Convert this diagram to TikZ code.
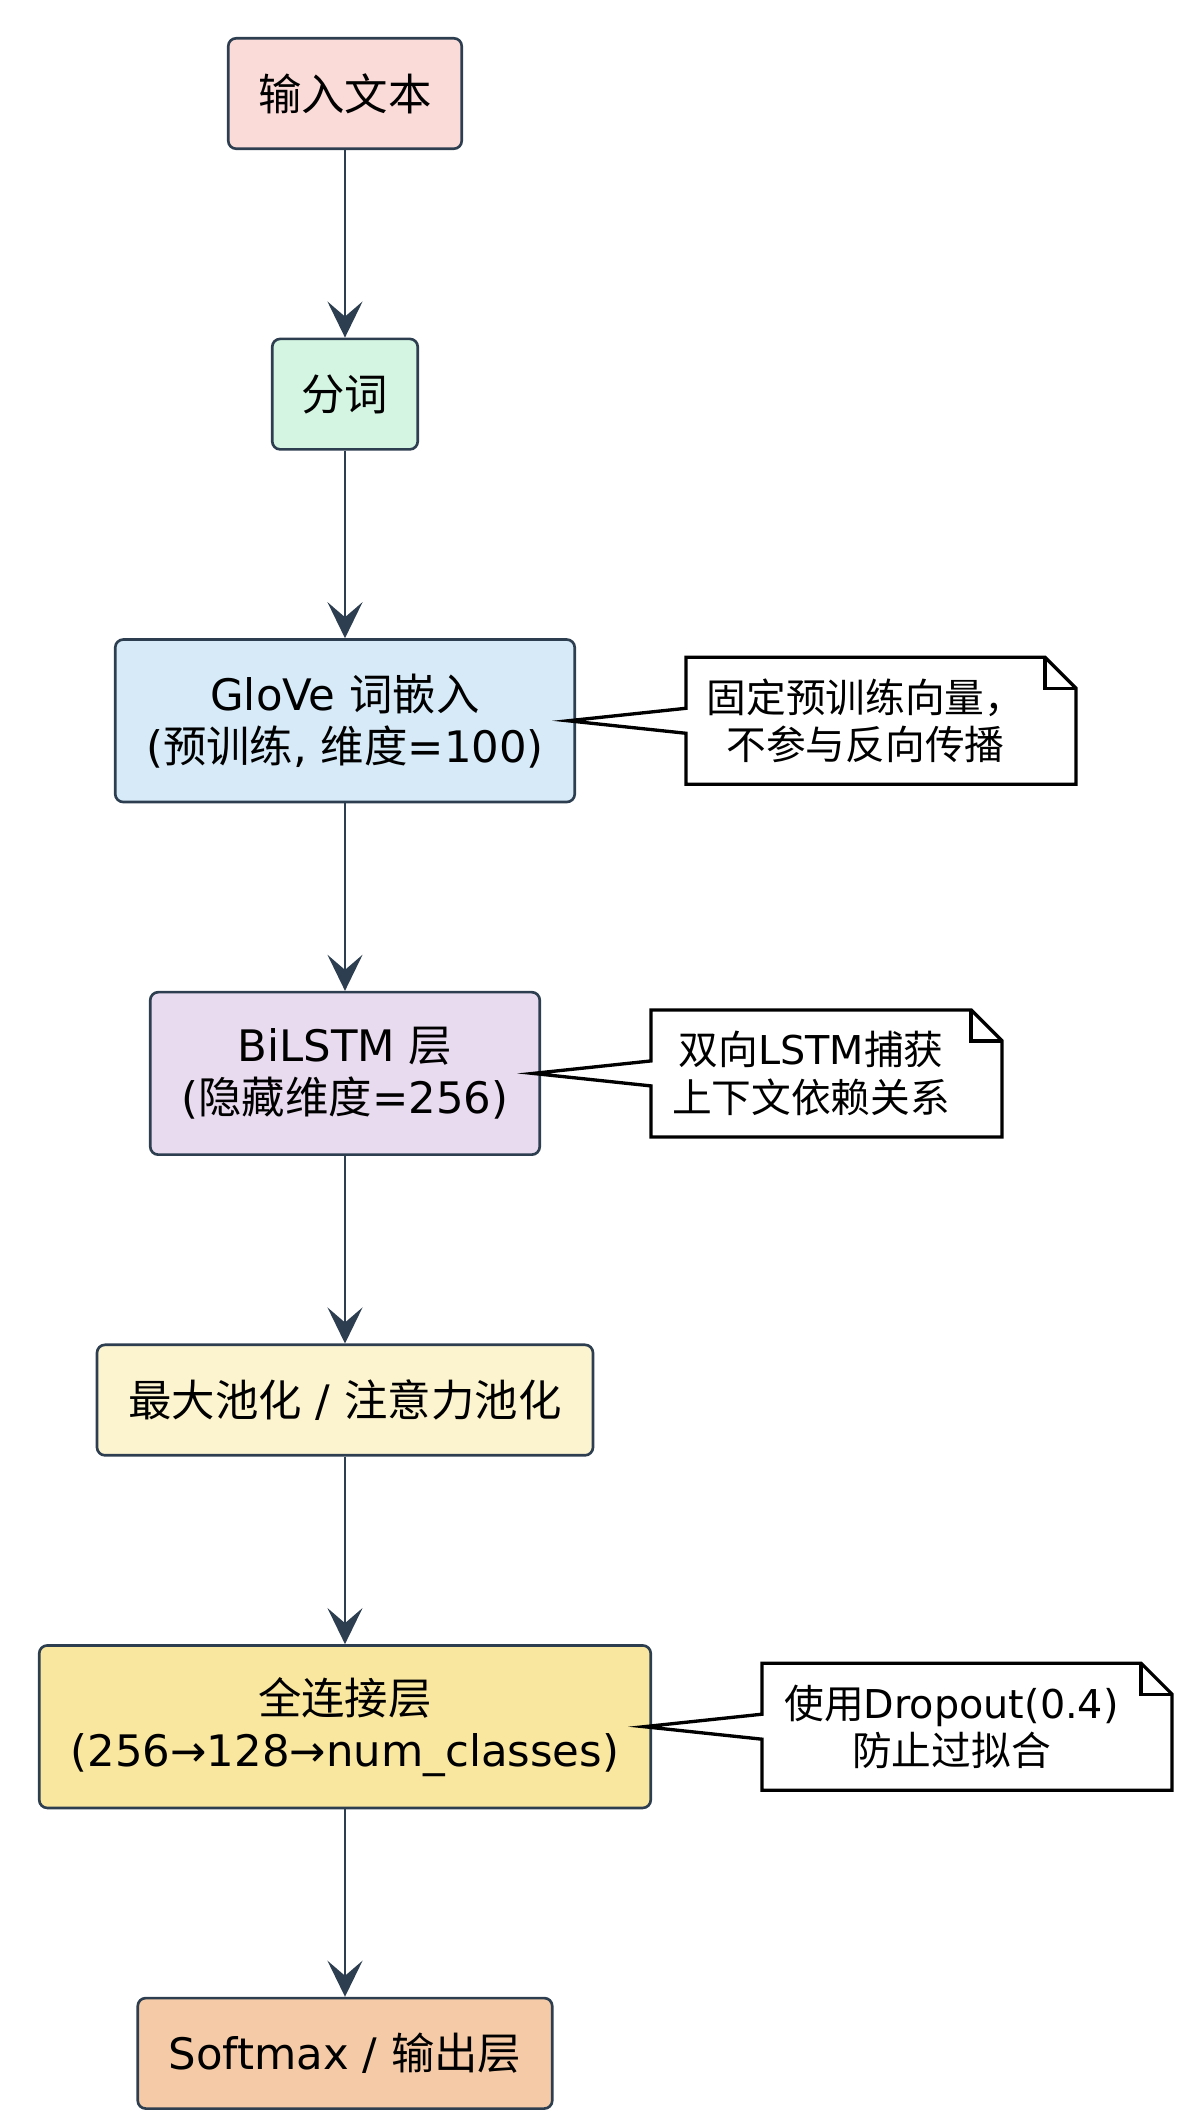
\documentclass[tikz,border=0pt]{standalone}
\usepackage{fontspec}
\setmainfont{DejaVu Sans}
\newfontfamily\zh{Noto Sans CJK SC}
\usetikzlibrary{positioning,calc}
\usetikzlibrary{arrows.meta}
\definecolor{edgeslate}{HTML}{2C3E50}
\definecolor{inpink}{HTML}{FADBD8}
\definecolor{tokgreen}{HTML}{D5F5E3}
\definecolor{gloveblue}{HTML}{D6EAF8}
\definecolor{lstmpurple}{HTML}{E8DAEF}
\definecolor{poolyellow}{HTML}{FCF3CF}
\definecolor{fcyellow}{HTML}{F9E79F}
\definecolor{outpeach}{HTML}{F5CBA7}

\begin{document}
\begin{tikzpicture}[
         layer/.style = {draw=edgeslate, line width=1.5pt, rounded corners=0.16cm,
         align=center, inner xsep=0.2cm, inner ysep=0.1cm, minimum height=2.21cm,
         font=\fontsize{24.7pt}{29.6pt}\selectfont},
         twoline/.style = {minimum height=3.25cm},
         notetext/.style = {align=center, inner sep=0pt, outer sep=0pt,
         minimum height=2.54cm, font=\fontsize{22.6pt}{27.1pt}\selectfont},
         notepath/.style = {draw=black, line width=1.9pt, line join=miter},
         flow/.style = {draw=edgeslate, line width=1.6pt,
         -{Stealth[length=0.72cm, width=0.7cm, inset=0.3cm]}},
         node distance = 3.75cm]

      \useasboundingbox (-6.9,1.87) rectangle (16.88,-40.61);

      % pipeline stages
      \node[layer, fill=inpink, minimum width=4.67cm]                   (input) {{\zh 输入文本}};
      \node[layer, fill=tokgreen, minimum width=2.91cm, below=of input] (token) {{\zh 分词}};
      \node[layer, twoline, fill=gloveblue, minimum width=9.19cm, below=of token] (glove)
         {GloVe {\zh 词嵌入}\\({\zh 预训练}, {\zh 维度}=100)};
      \node[layer, twoline, fill=lstmpurple, minimum width=7.79cm, below=of glove] (bilstm)
         {BiLSTM {\zh 层}\\({\zh 隐藏维度}=256)};
      \node[layer, fill=poolyellow, minimum width=9.92cm, below=of bilstm] (pool)
         {{\zh 最大池化} / {\zh 注意力池化}};
      \node[layer, twoline, fill=fcyellow, minimum width=12.23cm, below=of pool] (fc)
         {{\zh 全连接层}\\(256→128→num\_classes)};
      \node[layer, fill=outpeach, minimum width=8.29cm, below=of fc]   (output)
         {Softmax / {\zh 输出层}};

      % arrows
      \draw[flow] (input)  -- (token);
      \draw[flow] (token)  -- (glove);
      \draw[flow] (glove)  -- (bilstm);
      \draw[flow] (bilstm) -- (pool);
      \draw[flow] (pool)   -- (fc);
      \draw[flow] (fc)     -- (output);

      % side notes
      \node[notetext, minimum width=7.18cm, right=2.2cm of glove]  (glovenote)
         {{\zh 固定预训练向量，}\\{\zh 不参与反向传播}};
      \node[notetext, minimum width=6.4cm, right=2.2cm of bilstm]  (lstmnote)
         {{\zh 双向}LSTM{\zh 捕获}\\{\zh 上下文依赖关系}};
      \node[notetext, minimum width=7.58cm, right=2.2cm of fc]     (fcnote)
         {{\zh 使用}Dropout(0.4)\\{\zh 防止过拟合}};

      % note outlines with pointer
      \draw[notepath] ($(glovenote.west)+(0,0.25)$) -- (glovenote.north west)
         -- (glovenote.north east) -- ($(glovenote.north east)+(0.62,-0.62)$)
         -- ($(glovenote.south east)+(0.62,0)$) -- (glovenote.south west)
         -- ($(glovenote.west)+(0,-0.25)$) -- ($(glove.east)+(-0.16,0)$) -- cycle;
      \draw[notepath] (glovenote.north east) -- ++(0,-0.62) -- ++(0.62,0);

      \draw[notepath] ($(lstmnote.west)+(0,0.25)$) -- (lstmnote.north west)
         -- (lstmnote.north east) -- ($(lstmnote.north east)+(0.62,-0.62)$)
         -- ($(lstmnote.south east)+(0.62,0)$) -- (lstmnote.south west)
         -- ($(lstmnote.west)+(0,-0.25)$) -- ($(bilstm.east)+(-0.16,0)$) -- cycle;
      \draw[notepath] (lstmnote.north east) -- ++(0,-0.62) -- ++(0.62,0);

      \draw[notepath] ($(fcnote.west)+(0,0.25)$) -- (fcnote.north west)
         -- (fcnote.north east) -- ($(fcnote.north east)+(0.62,-0.62)$)
         -- ($(fcnote.south east)+(0.62,0)$) -- (fcnote.south west)
         -- ($(fcnote.west)+(0,-0.25)$) -- ($(fc.east)+(-0.16,0)$) -- cycle;
      \draw[notepath] (fcnote.north east) -- ++(0,-0.62) -- ++(0.62,0);

\end{tikzpicture}
\end{document}
